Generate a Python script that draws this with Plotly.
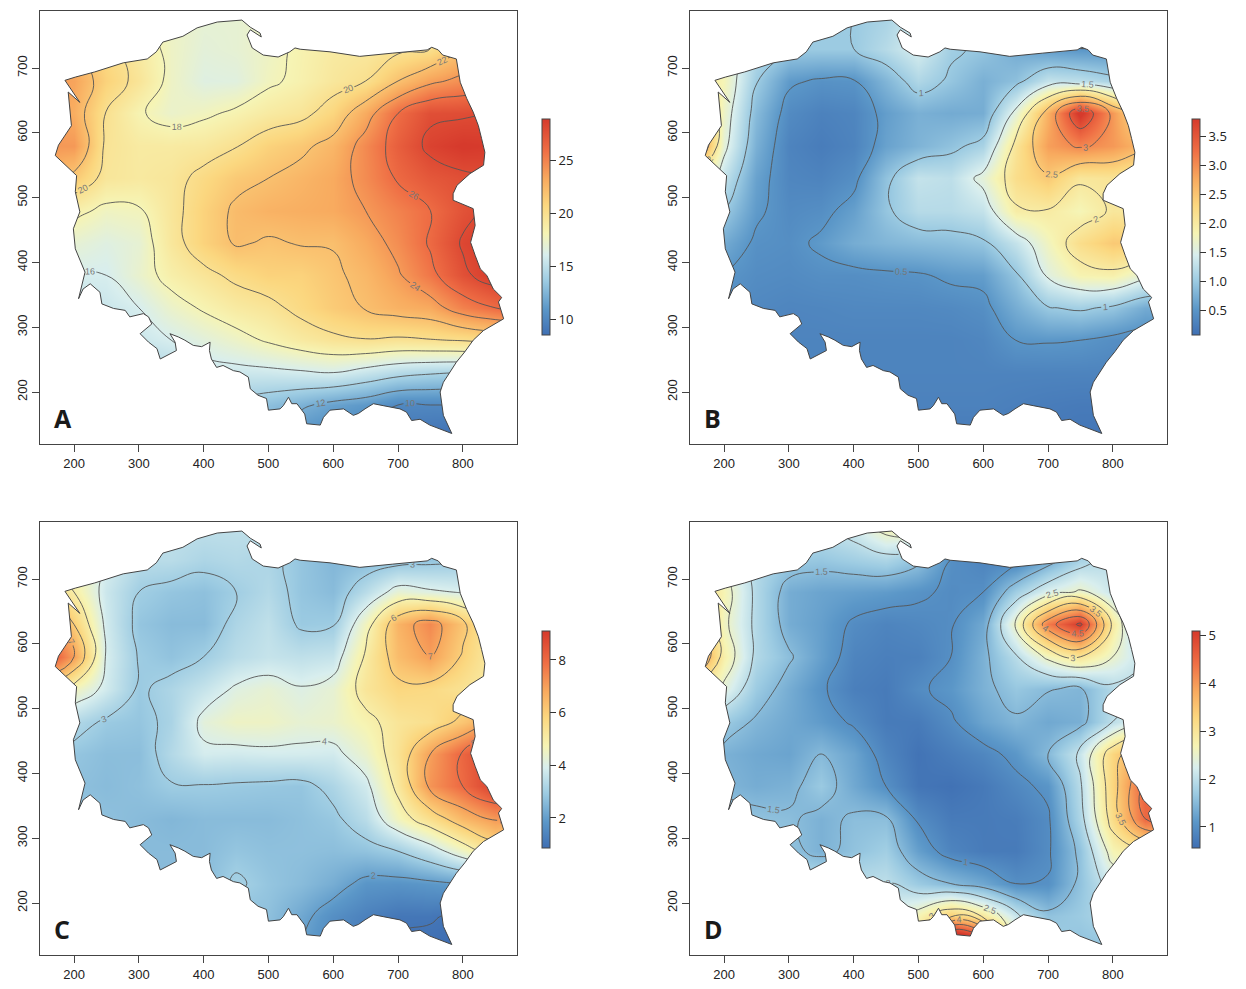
import plotly.graph_objects as go

X_GRID = [150,200,250,300,350,400,450,500,550,600,650,700,750,800,850,900]
Y_GRID = [780,730,680,630,580,530,480,430,380,330,280,230,180,130]

Z_A = [
[22,21,19,18,17.5,17,17,17.5,18,18.5,19,19.5,20,22,22,22],
[23,22,20.5,19,17.5,16.8,17,17.5,18.3,19,19.2,19.6,20,22,23,23],
[24,23.5,21,19.5,17.5,16.5,16.6,17.7,18.4,19.3,20,22,23.6,24.5,25,25],
[24,23,19.9,18.2,17.3,17.7,18.3,19,19.5,20.8,23.2,26,27.7,27.8,28,28],
[24,24,19.6,19,19,19.2,19.9,21,21.6,22.6,24.7,26.8,28.4,29,28.8,28.8],
[23,21.5,19.4,19.1,19.4,20.5,21.5,22,22.6,23.2,24.6,26.2,27.2,27.7,27.9,28],
[21,18.5,17.6,17.8,19.4,21,22.3,22.8,23,23.2,24,25,26,27.5,28.5,28.5],
[20,17,16.5,17,19.3,21,22.2,21.8,22.1,22.1,23.2,24.5,26.2,28.2,29,29],
[18,16,16,17.2,18.6,19.5,20.4,21,21,21.7,22.5,23.8,25.5,27.6,29,29],
[16,15,15.5,16,17.3,18.2,19,19.5,20.5,21.4,22.1,22.8,23.2,25,26,27],
[15,14.5,14.8,15.5,16,16.7,17.4,18.2,19,19.6,19.9,19.7,19.9,20.1,20.5,20.5],
[14,14,14,14,14.5,15.4,15.5,15.6,15.8,16,15.3,14.6,14.2,14,14,14],
[13.5,13.5,13.5,13.5,13.5,13.5,13.5,13,12.3,11.5,11,10,10,10,10,10],
[13,13,13,13,13,13,13,12,10.5,10,9.5,9,8.7,8.5,8.5,8.5],
]
Z_B = [
[1.5,1.4,1.2,1.1,1.0,1.0,1.1,1.4,1.3,0.9,0.7,0.6,0.6,0.55,0.5,0.5],
[2,1.7,1.2,1.0,1.0,1.0,1.2,1.45,1.05,0.95,0.7,0.55,0.5,0.5,0.7,0.7],
[2.2,1.8,1.02,0.55,0.46,0.48,0.8,1.15,0.95,0.75,0.9,1.3,1.25,1.1,1,1],
[3,1.7,0.85,0.38,0.28,0.32,0.58,0.75,0.7,0.72,1.6,2.7,3.9,2.9,2,2],
[3.5,1.6,0.75,0.3,0.22,0.3,0.62,0.78,0.92,1.1,2.1,2.85,3.05,2.9,2.6,2.6],
[2,1.3,0.62,0.33,0.3,0.42,0.92,1.3,1.25,1.6,2.2,2.45,2.05,2.1,2,2],
[1.2,1.0,0.55,0.38,0.42,0.6,0.95,1.2,1.2,1.3,1.95,1.98,1.8,2.05,2,2],
[0.9,0.7,0.45,0.42,0.55,0.72,0.8,0.85,0.88,0.95,1.3,1.75,2.2,2.45,2.4,2.2],
[0.7,0.5,0.4,0.38,0.42,0.42,0.45,0.47,0.55,0.58,0.95,1.55,1.85,1.9,1.6,1.4],
[0.45,0.4,0.35,0.32,0.33,0.35,0.35,0.35,0.37,0.42,0.72,0.98,1.05,0.95,0.7,0.7],
[0.4,0.35,0.32,0.3,0.3,0.3,0.3,0.3,0.3,0.33,0.5,0.52,0.5,0.42,0.38,0.38],
[0.3,0.3,0.3,0.3,0.3,0.3,0.3,0.3,0.3,0.3,0.3,0.3,0.3,0.3,0.3,0.3],
[0.28,0.28,0.28,0.28,0.28,0.28,0.28,0.28,0.28,0.28,0.25,0.22,0.2,0.2,0.2,0.2],
[0.2,0.2,0.2,0.2,0.2,0.2,0.2,0.2,0.2,0.2,0.2,0.18,0.15,0.15,0.15,0.15],
]
Z_C = [
[3.5,3.5,3.5,3.3,3.5,3.5,3.5,3.5,3.5,3.1,3,3,3,3,3,3],
[5,4.5,3.9,3.4,3.4,3.2,3.3,3.2,2.8,2.5,2.6,2.7,2.8,2.9,3,3],
[6,5,3.7,3,2.8,2.7,3,3.3,2.8,2.6,3.4,4.3,4.1,3.95,4,4],
[8,6,3.8,2.8,2.6,2.6,3.2,3.5,2.9,2.95,4.6,6.6,7.4,6.2,5,5],
[9,7,3.9,2.95,2.75,3,3.4,3.6,3.5,3.6,5.1,6.4,7,5.9,5,5],
[6,4.6,3.8,2.9,3.2,3.6,4.1,4.3,4.05,4.3,5.3,5.8,5.7,5.4,5,5],
[4,3.3,2.9,2.8,3.15,4.2,4.5,4.5,4.3,4.4,4.8,5.3,5.5,6.2,7,7],
[3.2,2.8,2.65,2.65,3.3,3.85,3.8,3.85,3.85,3.8,4.4,5.4,7,8.1,9,9],
[3,2.7,2.6,2.7,2.95,2.95,2.9,2.85,2.8,3.2,3.8,5.2,7.2,8,9,9],
[3,2.8,2.7,2.6,2.5,2.6,2.6,2.6,2.7,2.85,3.4,4.6,5.5,6.5,7.1,7],
[3,2.8,2.7,2.6,2.6,2.6,2.8,2.7,2.7,2.65,2.75,3,3.6,4.5,5.5,5.5],
[3,2.8,2.7,2.6,2.6,2.6,3.1,2.8,2.6,2.3,1.8,1.75,1.85,2,2,2],
[3,2.8,2.7,2.7,2.7,2.7,2.7,2.7,2.2,1.65,1.3,1.05,1.05,0.9,0.9,0.9],
[3,2.8,2.7,2.7,2.7,2.7,2.7,2.6,2,1.4,1.1,0.95,0.85,0.8,0.8,0.8],
]
Z_D = [
[2.8,2.8,2.5,2.2,2,2.2,2.7,2.8,1.8,1.2,0.9,0.9,1,1.3,1.3,1.3],
[3,2.4,1.9,1.7,1.65,1.75,1.85,1.6,1,0.85,0.85,1.3,1.8,2,2,2],
[3.5,2.7,1.9,1.35,1.25,1.2,1.15,1.05,0.95,1,1.75,2.3,2.55,2.1,2,2],
[4,2.6,1.9,1.35,1.2,0.95,0.85,0.9,0.97,1.3,2.6,4.3,5.1,2.9,1.5,1.5],
[4.5,2.8,1.9,1.55,1.2,0.85,0.78,0.8,1,1.4,1.95,2.6,3,2.5,2,2],
[3,2.4,1.7,1.35,1.05,0.78,0.72,0.95,1.1,1.4,1.65,1.52,1.45,1.9,2,2],
[2.3,1.7,1.45,1.3,1.15,0.95,0.72,0.72,0.95,1.25,1.45,1.3,1.38,2,2.4,2.4],
[2,1.4,1.3,1.25,1.5,1.25,0.85,0.62,0.75,0.88,1.1,1.5,2.1,3.3,4,4],
[2,1.45,1.35,1.4,1.68,1.3,1,0.65,0.6,0.7,0.9,1.08,1.95,3.3,4.6,4.6],
[2,1.65,1.6,1.55,1.4,1.55,1.55,0.95,0.72,0.72,0.75,0.95,1.85,3.2,4.5,4.5],
[2,1.8,1.7,1.6,1.4,1.6,1.75,1.2,0.85,0.73,0.72,0.95,1.6,2.7,3,3],
[2,2,2,2,2,2,2,1.7,1.5,1.3,1,1.02,1.6,2.2,2.2,2.2],
[2,2,2,2,2,2,2.2,2.7,3.4,2.95,2.1,1.6,1.7,1.9,2,2],
[2,2,2,2,2,2,2.5,3,7,6,2.5,1.8,1.6,1.6,2,2],
]

OUTLINE_X = [186,202,232,276,313,327,337,368,390,421,459,472,487,489,472,467,475,492,515,533,541,549,595,641,692,745,752,762,769,790,796,806,816,824,829,834,832,811,791,785,785,816,819,812,819,827,837,847,860,855,863,832,816,803,790,780,770,765,767,770,783,749,734,721,713,703,677,662,649,639,631,616,595,585,580,559,556,544,536,531,523,518,500,497,484,472,469,456,446,430,420,412,409,410,397,384,371,361,348,356,358,345,333,328,315,302,312,320,315,307,286,279,261,243,240,225,214,207,217,202,199,209,202,204,171,176,196,191,209,189,186]
OUTLINE_Y = [681,686,694,708,714,725,740,749,762,771,774,763,754,748,759,751,731,720,717,725,731,729,725,718,723,728,732,728,720,714,678,653,632,611,591,570,550,537,519,506,496,483,457,431,411,390,380,359,346,339,313,295,280,262,246,231,215,200,182,164,136,149,158,156,169,174,179,182,174,167,164,174,172,161,149,151,166,182,182,192,179,174,172,190,195,205,223,231,233,241,238,251,264,277,270,272,280,285,290,277,264,257,251,267,277,290,298,305,316,321,316,326,329,336,354,367,359,344,385,421,452,478,509,534,565,581,611,663,647,676,681]

X_RANGE = [147.5, 883.6]
Y_RANGE = [119.8, 788]
X_TICKS = [200,300,400,500,600,700,800]
Y_TICKS = [200,300,400,500,600,700]

COLORS = [[0,"#3f6fb3"],[0.12,"#5b97c8"],[0.25,"#9ccbe2"],[0.37,"#d8eeee"],[0.47,"#f6f4b4"],
          [0.6,"#fbd77f"],[0.72,"#f8ab5f"],[0.85,"#ef6f45"],[1,"#d63a2c"]]

PANELS = [
 dict(name="A", z=Z_A, px=(40,517), py=(11,444), cb=(8.5,28.9), ticks=[10,15,20,25], fmt="d", lv=(10,28,2), cbx=542, cby=(119,335)),
 dict(name="B", z=Z_B, px=(690,1167), py=(11,444), cb=(0.07,3.8), ticks=[0.5,1,1.5,2,2.5,3,3.5], fmt=".1f", lv=(0.5,3.5,0.5), cbx=1192, cby=(119,335)),
 dict(name="C", z=Z_C, px=(40,517), py=(522,955), cb=(0.86,9.1), ticks=[2,4,6,8], fmt="d", lv=(1,8,1), cbx=542, cby=(631,848)),
 dict(name="D", z=Z_D, px=(690,1167), py=(522,955), cb=(0.56,5.1), ticks=[1,2,3,4,5], fmt="d", lv=(1,5,0.5), cbx=1192, cby=(631,848)),
]
W, H = 1246, 989
fig = go.Figure()
layout = dict(width=W, height=H, margin=dict(l=0,r=0,t=0,b=0), paper_bgcolor="white", plot_bgcolor="white", showlegend=False)
annots = []
mask_x = [X_RANGE[0],X_RANGE[1],X_RANGE[1],X_RANGE[0],X_RANGE[0]] + OUTLINE_X + [X_RANGE[0]]
mask_y = [Y_RANGE[0],Y_RANGE[0],Y_RANGE[1],Y_RANGE[1],Y_RANGE[0]] + OUTLINE_Y + [Y_RANGE[0]]
for i, p in enumerate(PANELS):
    n = "" if i == 0 else str(i+1)
    xa, ya = "x"+n, "y"+n
    layout["xaxis"+n] = dict(domain=[p["px"][0]/W, p["px"][1]/W], range=X_RANGE, anchor=ya, tickvals=X_TICKS,
        ticks="outside", ticklen=7, tickcolor="#444", showgrid=False, zeroline=False, mirror=True, showline=True,
        linecolor="#444", linewidth=1, tickfont=dict(family="Liberation Sans", size=13, color="#222"))
    layout["yaxis"+n] = dict(domain=[1-p["py"][1]/H, 1-p["py"][0]/H], range=Y_RANGE, anchor=xa, tickvals=Y_TICKS,
        tickangle=-90, ticks="outside", ticklen=7, tickcolor="#444", showgrid=False, zeroline=False, mirror=True, showline=True,
        linecolor="#444", linewidth=1, tickfont=dict(family="Liberation Sans", size=13, color="#222"))
    fig.add_trace(go.Heatmap(x=X_GRID, y=Y_GRID, z=p["z"], zsmooth="best", colorscale=COLORS,
        zmin=p["cb"][0], zmax=p["cb"][1], xaxis=xa, yaxis=ya, hoverinfo="skip",
        colorbar=dict(thickness=8, thicknessmode="pixels", len=p["cby"][1]-p["cby"][0], lenmode="pixels",
            x=p["cbx"]/W, xanchor="left", xpad=0, y=1-p["cby"][1]/H, yanchor="bottom", ypad=0,
            tickvals=p["ticks"], tickformat=p["fmt"], ticks="outside", ticklen=6, tickcolor="#333",
            outlinecolor="#444", outlinewidth=1, tickfont=dict(family="Open Sans", size=13, color="#222"))))
    fig.add_trace(go.Contour(x=X_GRID, y=Y_GRID, z=p["z"], xaxis=xa, yaxis=ya, showscale=False, hoverinfo="skip",
        autocontour=False, contours=dict(coloring="none", start=p["lv"][0], end=p["lv"][1], size=p["lv"][2],
            showlabels=True, labelfont=dict(family="Liberation Sans", size=9, color="#777")),
        line=dict(color="#555", width=0.9, smoothing=1.3)))
    fig.add_trace(go.Scatter(x=mask_x, y=mask_y, mode="lines", fill="toself", fillcolor="white",
        line=dict(width=0, color="white"), xaxis=xa, yaxis=ya, hoverinfo="skip"))
    fig.add_trace(go.Scatter(x=OUTLINE_X, y=OUTLINE_Y, mode="lines", line=dict(color="#444", width=1),
        xaxis=xa, yaxis=ya, hoverinfo="skip"))
    annots.append(dict(text="<b>%s</b>" % p["name"], xref="paper", yref="paper", x=(p["px"][0]+12)/W, y=1-(p["py"][1]-26)/H,
        xanchor="left", yanchor="middle", showarrow=False, font=dict(family="Open Sans", size=25, color="#1a1a1a")))
layout["annotations"] = annots
fig.update_layout(**layout)
fig.write_html("out.html", post_script="document.body.style.margin='0';", config=dict(displayModeBar=False))
